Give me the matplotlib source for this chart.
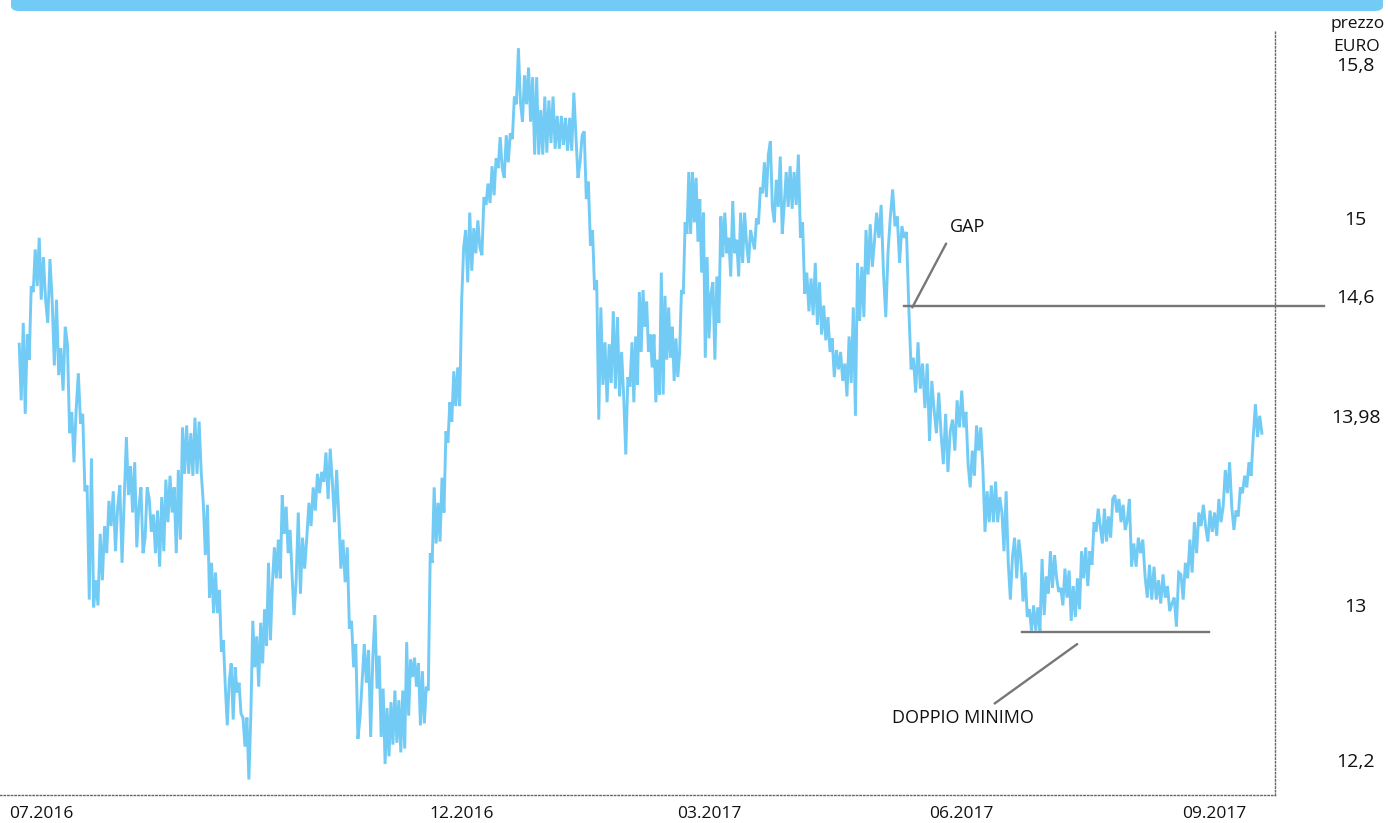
import matplotlib
matplotlib.use("Agg")
import matplotlib.pyplot as plt
import matplotlib.dates as mdates
from matplotlib.patches import FancyBboxPatch
import numpy as np

# Prices (EUR), month by month
jun_2016 = [14.35, 14.06, 14.46, 13.99, 14.40, 14.27, 14.65, 14.62, 14.84, 14.65, 14.90]
jul_2016 = [14.58, 14.80, 14.58, 14.46, 14.79, 14.58, 14.24, 14.58, 14.19, 14.33, 14.11, 14.44,
            14.35, 13.89, 14.00, 13.74, 14.01, 14.20, 13.94, 13.99, 13.59, 13.62, 13.03, 13.76,
            12.99, 13.13, 13.00, 13.37, 13.13, 13.41, 13.27, 13.54, 13.41, 13.59, 13.28, 13.51,
            13.62, 13.22, 13.54]
aug_2016 = [13.87, 13.57, 13.72, 13.48, 13.74, 13.30, 13.51, 13.61, 13.27, 13.35, 13.61, 13.55,
            13.38, 13.47, 13.27, 13.49, 13.20, 13.56, 13.28, 13.65, 13.43, 13.67, 13.48, 13.61,
            13.27, 13.70, 13.34, 13.92, 13.68, 13.93, 13.68, 13.89, 13.67, 13.97, 13.68, 13.95,
            13.69, 13.53, 13.26, 13.52, 13.04]
sep_2016 = [13.22, 12.96, 13.17, 12.96, 13.08, 12.76, 12.82, 12.58, 12.38, 12.61, 12.70, 12.41,
            12.68, 12.55, 12.60, 12.44, 12.42, 12.27, 12.42, 12.10, 12.43, 12.92, 12.68, 12.84,
            12.58, 12.91, 12.70, 12.98, 12.79, 13.22, 12.82, 13.12, 13.30, 13.14, 13.34, 13.14,
            13.57, 13.37, 13.51, 13.27, 13.39, 13.16]
oct_2016 = [12.95, 13.13, 13.48, 13.06, 13.35, 13.19, 13.35, 13.53, 13.41, 13.61, 13.49, 13.68,
            13.58, 13.69, 13.64, 13.79, 13.55, 13.81, 13.64, 13.43, 13.70, 13.47, 13.19, 13.34,
            13.12, 13.30, 12.88, 12.92, 12.68, 12.80, 12.31, 12.42, 12.61, 12.80, 12.60, 12.77,
            12.32, 12.73, 12.95, 12.57]
nov_2016 = [12.74, 12.32, 12.57, 12.18, 12.47, 12.22, 12.50, 12.28, 12.56, 12.29, 12.51, 12.24,
            12.56, 12.26, 12.81, 12.43, 12.72, 12.63, 12.73, 12.58, 12.70, 12.38, 12.66, 12.39,
            12.58, 12.56, 13.27, 13.22, 13.61, 13.32, 13.53, 13.33, 13.66, 13.48, 13.90, 13.84,
            14.05, 13.95, 14.21, 14.03, 14.23, 14.03]
dec_2016 = [14.57, 14.85, 14.94, 14.67, 15.03, 14.73, 14.95, 14.82, 14.99, 14.85, 14.81, 15.11,
            15.07, 15.18, 15.08, 15.27, 15.12, 15.31, 15.26, 15.42, 15.26, 15.21, 15.43, 15.29,
            15.44, 15.41, 15.63, 15.59, 15.88, 15.60, 15.50, 15.74, 15.59, 15.78, 15.50, 15.73,
            15.33, 15.73, 15.33, 15.56, 15.33, 15.63]
jan_2017 = [15.34, 15.61, 15.39, 15.63, 15.36, 15.53, 15.36, 15.53, 15.38, 15.52, 15.35, 15.52,
            15.35, 15.65, 15.43, 15.21, 15.29, 15.43, 15.45, 15.10, 15.19, 14.86, 14.94, 14.63,
            14.68, 13.96, 14.54, 14.14, 14.36, 14.05, 14.35, 14.15, 14.52, 14.12, 14.49, 14.08,
            14.31, 14.08, 13.78, 14.18, 14.13]
feb_2017 = [14.36, 14.05, 14.39, 14.14, 14.62, 14.31, 14.63, 14.44, 14.57, 14.31, 14.40, 14.23,
            14.40, 14.05, 14.27, 14.09, 14.72, 14.09, 14.60, 14.27, 14.54, 14.28, 14.44, 14.16,
            14.38, 14.18, 14.31, 14.63, 14.61, 14.98, 14.92, 15.24, 14.92, 15.24, 14.98, 15.21,
            14.88, 15.10, 14.72, 15.03, 14.28, 14.80]
mar_2017 = [14.38, 14.61, 14.67, 14.27, 14.70, 14.46, 15.01, 14.80, 15.03, 14.82, 14.90, 14.70,
            15.09, 14.82, 14.89, 14.70, 15.03, 14.77, 15.03, 14.87, 14.77, 14.94, 14.89, 14.84,
            15.00, 14.97, 15.16, 15.13, 15.29, 15.11, 15.33, 15.40, 15.06, 14.98, 15.20, 15.06,
            15.32, 14.92, 15.07, 15.24, 15.06, 15.27, 15.05]
apr_2017 = [15.24, 15.07, 15.33, 14.90, 14.98, 14.61, 14.72, 14.52, 14.69, 14.50, 14.77, 14.45,
            14.67, 14.40, 14.55, 14.37, 14.49, 14.31, 14.38, 14.18, 14.32, 14.22, 14.31, 14.16,
            14.25, 14.08, 14.39, 14.15, 14.54, 13.98, 14.77, 14.47, 14.75, 14.49, 14.94, 14.71,
            14.97, 14.75, 14.88]
may_2017 = [15.03, 14.90, 15.07, 14.72, 14.49, 14.83, 15.01, 15.15, 14.96, 15.01, 14.77, 14.96,
            14.90, 14.93, 14.54, 14.22, 14.28, 14.10, 14.36, 14.12, 14.25, 14.02, 14.25, 13.85,
            14.16, 14.01, 13.89, 14.10, 13.89, 13.73, 13.99, 13.69, 13.90, 13.96, 13.80, 14.06,
            13.92]
jun_2017 = [14.11, 13.92, 14.00, 13.73, 13.61, 13.80, 13.67, 13.93, 13.80, 13.92, 13.71, 13.38,
            13.59, 13.43, 13.62, 13.43, 13.64, 13.43, 13.56, 13.48, 13.28, 13.59, 13.22, 13.03,
            13.25, 13.35, 13.14, 13.34, 13.24, 13.02, 13.17, 12.94, 12.98, 12.87, 13.00, 12.87,
            12.99, 12.87, 13.24]
jul_2017 = [12.95, 13.15, 13.06, 13.28, 13.09, 13.26, 13.14, 13.07, 13.09, 13.00, 13.19, 13.04,
            13.18, 12.92, 13.10, 12.94, 13.14, 12.98, 13.28, 13.14, 13.30, 13.10, 13.28, 13.21,
            13.43, 13.38, 13.50, 13.41, 13.32, 13.50, 13.33, 13.46, 13.35, 13.55, 13.57, 13.48,
            13.55, 13.43, 13.52, 13.39, 13.44]
aug_2017 = [13.55, 13.20, 13.32, 13.20, 13.35, 13.27, 13.34, 13.15, 13.04, 13.21, 13.03, 13.20,
            13.03, 13.13, 13.01, 13.16, 13.04, 13.10, 12.97, 13.01, 13.04, 12.89, 13.17, 13.16,
            13.03, 13.22, 13.14, 13.34, 13.17, 13.43, 13.27, 13.48, 13.41, 13.52, 13.41, 13.33,
            13.49, 13.38]
sep_2017 = [13.48, 13.36, 13.55, 13.43, 13.51, 13.70, 13.58, 13.74, 13.51, 13.39, 13.49, 13.46,
            13.61, 13.58, 13.67, 13.61, 13.74, 13.67, 13.87, 14.04, 13.87, 13.98, 13.89]

month_spans = [
    ("2016-06-23", "2016-07-01", jun_2016),
    ("2016-07-01", "2016-08-01", jul_2016),
    ("2016-08-01", "2016-09-01", aug_2016),
    ("2016-09-01", "2016-10-01", sep_2016),
    ("2016-10-01", "2016-11-01", oct_2016),
    ("2016-11-01", "2016-12-01", nov_2016),
    ("2016-12-01", "2017-01-01", dec_2016),
    ("2017-01-01", "2017-02-01", jan_2017),
    ("2017-02-01", "2017-03-01", feb_2017),
    ("2017-03-01", "2017-04-01", mar_2017),
    ("2017-04-01", "2017-05-01", apr_2017),
    ("2017-05-01", "2017-06-01", may_2017),
    ("2017-06-01", "2017-07-01", jun_2017),
    ("2017-07-01", "2017-08-01", jul_2017),
    ("2017-08-01", "2017-09-01", aug_2017),
    ("2017-09-01", "2017-09-19", sep_2017),
]

tick_dates = ["2016-07-01", "2016-12-01", "2017-03-01", "2017-06-01", "2017-09-01"]
tick_labels = ["07.2016", "12.2016", "03.2017", "06.2017", "09.2017"]
price_ticks = [15.8, 15.0, 14.6, 13.98, 13.0, 12.2]
price_labels = ["15,8", "15", "14,6", "13,98", "13", "12,2"]

# annotations
gap_level = 14.55
gap_from, gap_to = "2017-05-11", "2017-10-11"
gap_point = ("2017-05-14", 14.54)
bottom_level = 12.86
bottom_from, bottom_to = "2017-06-23", "2017-08-30"
bottom_point = ("2017-07-13", 12.80)

BLUE = "#72cbf4"
GREY = "#777777"
TXT = "#111111"
plt.rcParams["font.family"] = ["Open Sans", "DejaVu Sans"]

dates, prices = [], []
for start, end, vals in month_spans:
    t0, t1 = mdates.datestr2num(start), mdates.datestr2num(end)
    dates.extend(np.linspace(t0, t1, len(vals), endpoint=False))
    prices.extend(vals)

W, H = 1388, 823
fig = plt.figure(figsize=(W / 100, H / 100), dpi=100)
ax = fig.add_axes([0, 1 - 795 / H, 1275 / W, 765 / H])

ax.plot(dates, prices, color=BLUE, lw=2.1, solid_joinstyle="miter", zorder=2)

ax.set_xlim(mdates.datestr2num("2016-06-16"), mdates.datestr2num("2017-09-23"))
ax.set_ylim(12.02, 15.974)

for s in ["top", "left"]:
    ax.spines[s].set_visible(False)
for s in ["bottom", "right"]:
    ax.spines[s].set_linestyle((0, (1, 1.6)))
    ax.spines[s].set_color("#666666")
    ax.spines[s].set_linewidth(1.0)

ax.set_xticks([mdates.datestr2num(d) for d in tick_dates])
ax.set_xticklabels(tick_labels)
ax.tick_params(axis="x", length=0, pad=8, labelsize=12.5, colors=TXT)

ax.yaxis.tick_right()
ax.set_yticks(price_ticks)
ax.set_yticklabels(price_labels)
ax.tick_params(axis="y", length=0, pad=58, labelsize=14, colors=TXT)
for lbl in ax.get_yticklabels():
    lbl.set_horizontalalignment("center")

fig.text(1358 / W, 1 - 24 / H, "prezzo", ha="center", va="center", fontsize=12.5, color=TXT)
fig.text(1357 / W, 1 - 47 / H, "EURO", ha="center", va="center", fontsize=12.5, color=TXT)

# GAP line + leader
ax.plot([mdates.datestr2num(gap_from), mdates.datestr2num(gap_to)], [gap_level, gap_level],
        color=GREY, lw=1.7, clip_on=False, zorder=3)
ax.annotate("GAP", xy=(mdates.datestr2num(gap_point[0]), gap_point[1]),
            xytext=(40, 58), textcoords="offset points", ha="center", va="center",
            fontsize=13, color=TXT,
            arrowprops=dict(arrowstyle="-", color=GREY, lw=1.7, relpos=(0, 0),
                            shrinkA=4, shrinkB=0))

# double bottom line + leader
ax.plot([mdates.datestr2num(bottom_from), mdates.datestr2num(bottom_to)],
        [bottom_level, bottom_level], color=GREY, lw=1.7, zorder=3)
ax.annotate("DOPPIO MINIMO", xy=(mdates.datestr2num(bottom_point[0]), bottom_point[1]),
            xytext=(-82, -53), textcoords="offset points", ha="center", va="center",
            fontsize=13, color=TXT,
            arrowprops=dict(arrowstyle="-", color=GREY, lw=1.7, relpos=(0.67, 1),
                            shrinkA=3, shrinkB=0))

# header banner (cut off at the top)
fig.patches.append(FancyBboxPatch((11 / W, 1 - 11 / H), (1383 - 11) / W, 40 / H,
                                  boxstyle="round,pad=0,rounding_size=0.006",
                                  transform=fig.transFigure, facecolor=BLUE,
                                  edgecolor="none"))

fig.savefig("out.png", dpi=100)
